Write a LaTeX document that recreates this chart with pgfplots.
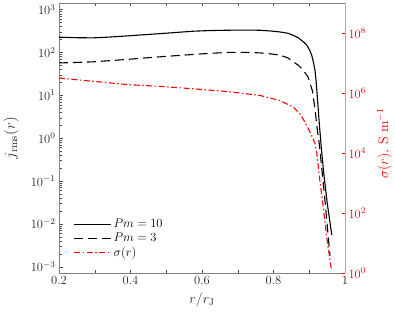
\RequirePackage{fix-cm}
\documentclass[border=0pt]{standalone}
\usepackage{pgfplots}
\pgfplotsset{compat=1.18}
\begin{document}
\begin{tikzpicture}[x=1pt,y=1pt]
\useasboundingbox (0,0) rectangle (395,315);
\begin{axis}[
  at={(59pt,42pt)}, anchor=south west,
  scale only axis, width=286pt, height=270pt,
  xmin=0.2, xmax=1,
  ymode=log, ymin=7.13e-4, ymax=1.426e3,
  xtick={0.2,0.3,0.4,0.5,0.6,0.7,0.8,0.9,1},
  xticklabels={0.2,,0.4,,0.6,,0.8,,1},
  ytick={1e-3,1e-2,1e-1,1,1e1,1e2,1e3},
  minor ytick={}, minor tick num=0,
  axis y line*=left,
  axis x line*=box,
  xtick pos=both,
  tick align=inside,
  major tick length=3.5pt,
  axis line style={draw=black!50},
  every tick/.style={draw=black!70},
  tick label style={font=\fontsize{12.5}{15}\selectfont, text=black!85},
  xlabel={$r/r_{\mathrm{J}}$},
  ylabel={$j_{\mathrm{rms}}(r)$},
  every axis x label/.style={at={(axis description cs:0.5,-0.1)}, anchor=center, font=\fontsize{14}{16}\selectfont, text=black!85},
  every axis y label/.style={at={(axis description cs:-0.167,0.5)}, rotate=90, anchor=center, font=\fontsize{15}{17}\selectfont, text=black!85},
  legend style={at={(axis description cs:0.05,0.208)}, anchor=north west, draw=none, fill=none,
    font=\fontsize{12.5}{15}\selectfont, row sep=0pt, inner sep=0pt},
  legend cell align=left,
  legend image code/.code={\draw[#1] (0pt,0pt) -- (37pt,0pt);},
]
\addplot[black, line width=1.1pt] coordinates {
(0.2,227) (0.25,221) (0.295,219) (0.34,228) (0.39,243) (0.435,258) (0.483,275) (0.53,294) (0.575,313) (0.62,324) (0.67,330) (0.72,333) (0.762,330) (0.79,318) (0.818,301) (0.84,281) (0.855,251) (0.87,218) (0.883,178) (0.893,148) (0.902,110) (0.907,85) (0.912,57.5) (0.916,38.9) (0.920,17.8) (0.9225,9.33) (0.928,2.24) (0.934,0.562) (0.940,0.166) (0.950,0.0316) (0.963,0.0055)
};
\addlegendentry{$Pm = 10$}
\addplot[black, line width=1.1pt, dash pattern=on 9pt off 5pt] coordinates {
(0.2,56.9) (0.25,58.5) (0.295,60.4) (0.34,64.2) (0.39,68.7) (0.435,73.8) (0.483,79.1) (0.53,84.5) (0.575,89.7) (0.62,95) (0.67,100) (0.72,100.7) (0.762,97.7) (0.79,93) (0.818,86.5) (0.84,75) (0.855,60.3) (0.87,50.1) (0.883,38.9) (0.897,26.3) (0.909,12.6) (0.916,4.79) (0.9225,1.58) (0.928,0.741) (0.935,0.2) (0.945,0.0282) (0.958,0.00178)
};
\addlegendentry{$Pm = 3$}
\addlegendimage{red, line width=1.1pt, dash pattern=on 6pt off 2.5pt on 1.5pt off 2.5pt}
\addlegendentry{$\sigma(r)$}
\end{axis}
\begin{axis}[
  at={(59pt,42pt)}, anchor=south west,
  scale only axis, width=286pt, height=270pt,
  xmin=0.2, xmax=1,
  ymode=log, ymin=1, ymax=1e9,
  ytick={1,1e2,1e4,1e6,1e8},
  minor ytick={}, minor tick num=0,
  axis x line=none,
  axis y line*=right,
  tick align=inside,
  major tick length=3.5pt,
  y axis line style={draw=red!45},
  every tick/.style={draw=red},
  yticklabel style={font=\fontsize{12.5}{15}\selectfont, text=red},
  ylabel={$\sigma(r)$, $\mathrm{S\ m^{-1}}$},
  every axis y label/.style={at={(axis description cs:1.137,0.48)}, rotate=90, anchor=center, font=\fontsize{14}{16}\selectfont, text=red},
]
\addplot[red, line width=1.1pt, dash pattern=on 6pt off 2.5pt on 1.5pt off 2.5pt] coordinates {
(0.2,3.16e6) (0.295,2.45e6) (0.39,1.91e6) (0.483,1.66e6) (0.575,1.38e6) (0.67,1.12e6) (0.762,8.3e5) (0.818,5.6e5) (0.855,3.4e5) (0.874,2.04e5) (0.888,1.07e5) (0.902,5.0e4) (0.916,2.14e4) (0.921,1.0e4) (0.930,1.12e3) (0.939,162) (0.950,12.6) (0.962,1.26)
};
\end{axis}
\end{tikzpicture}
\end{document}
